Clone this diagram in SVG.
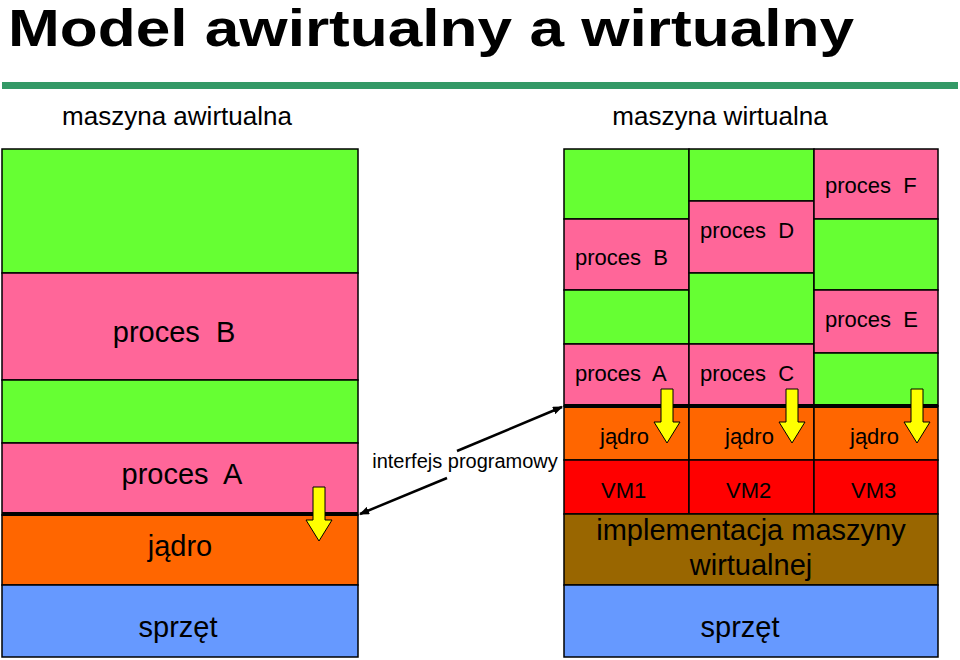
<svg xmlns="http://www.w3.org/2000/svg" width="960" height="660" viewBox="0 0 960 660" xml:space="preserve">
<style>
.t{font-family:"Liberation Sans",Arial,sans-serif;fill:#000;white-space:pre}
.b{stroke:#000;stroke-width:1.5}
.g{fill:#66ff33}.p{fill:#ff6699}.o{fill:#ff6600}.r{fill:#ff0000}.br{fill:#996600}.bl{fill:#6699ff}
.y{fill:#ffff00;stroke:#000;stroke-width:1}
</style>
<defs><marker id="ah" markerWidth="10" markerHeight="8" refX="9" refY="4" orient="auto" markerUnits="userSpaceOnUse"><path d="M0,0L10,4L0,8z" fill="#000"/></marker>
<path id="ya" d="M-6,0h12v33h7l-13,21l-13,-21h7z"/></defs>
<rect width="960" height="660" fill="#fff"/>
<text class="t" x="8" y="46" font-size="52" font-weight="bold" textLength="846" lengthAdjust="spacingAndGlyphs">Model awirtualny a wirtualny</text>
<rect x="2" y="82" width="956" height="7" fill="#339966"/>
<text class="t" x="177" y="125" font-size="26" text-anchor="middle">maszyna awirtualna</text>
<text class="t" x="720" y="125" font-size="26" text-anchor="middle">maszyna wirtualna</text>
<g id="left">
<rect class="g b" x="2" y="149" width="356" height="124"/>
<rect class="p b" x="2" y="273" width="356" height="107"/>
<rect class="g b" x="2" y="380" width="356" height="63"/>
<rect class="p b" x="2" y="443" width="356" height="72"/>
<rect class="o b" x="2" y="515" width="356" height="70"/>
<rect class="bl b" x="2" y="585" width="356" height="72"/>
<line x1="2" y1="514" x2="358" y2="514" stroke="#000" stroke-width="4"/>
<text class="t" x="174" y="342" font-size="29" text-anchor="middle">proces  B</text>
<text class="t" x="182" y="484" font-size="29" text-anchor="middle">proces  A</text>
<text class="t" x="180" y="556" font-size="29" text-anchor="middle">jądro</text>
<text class="t" x="178" y="637" font-size="29" text-anchor="middle">sprzęt</text>
<use href="#ya" class="y" x="319" y="487"/>
</g>
<g id="right">
<rect class="g b" x="564" y="149" width="125" height="70"/>
<rect class="p b" x="564" y="219" width="125" height="71"/>
<rect class="g b" x="564" y="290" width="125" height="54"/>
<rect class="p b" x="564" y="344" width="125" height="62"/>
<rect class="g b" x="689" y="149" width="125" height="52"/>
<rect class="p b" x="689" y="201" width="125" height="72"/>
<rect class="g b" x="689" y="273" width="125" height="71"/>
<rect class="p b" x="689" y="344" width="125" height="62"/>
<rect class="p b" x="814" y="149" width="124" height="70"/>
<rect class="g b" x="814" y="219" width="124" height="71"/>
<rect class="p b" x="814" y="290" width="124" height="63"/>
<rect class="g b" x="814" y="353" width="124" height="53"/>
<rect class="o b" x="564" y="406" width="125" height="54"/>
<rect class="o b" x="689" y="406" width="125" height="54"/>
<rect class="o b" x="814" y="406" width="124" height="54"/>
<rect class="r b" x="564" y="460" width="125" height="54"/>
<rect class="r b" x="689" y="460" width="125" height="54"/>
<rect class="r b" x="814" y="460" width="124" height="54"/>
<rect class="br b" x="564" y="514" width="374" height="71"/>
<rect class="bl b" x="564" y="585" width="374" height="72"/>
<line x1="564" y1="406" x2="938" y2="406" stroke="#000" stroke-width="4"/>
<text class="t" font-size="22" x="575" y="265">proces  B</text>
<text class="t" font-size="22" x="700" y="238">proces  D</text>
<text class="t" font-size="22" x="825" y="193">proces  F</text>
<text class="t" font-size="22" x="825" y="327">proces  E</text>
<text class="t" font-size="22" x="575" y="381">proces  A</text>
<text class="t" font-size="22" x="700" y="381">proces  C</text>
<text class="t" font-size="22" x="600" y="444">jądro</text>
<text class="t" font-size="22" x="725" y="444">jądro</text>
<text class="t" font-size="22" x="850" y="444">jądro</text>
<text class="t" font-size="22" x="601" y="498">VM1</text>
<text class="t" font-size="22" x="726" y="498">VM2</text>
<text class="t" font-size="22" x="851" y="498">VM3</text>
<text class="t" x="751" y="540" font-size="29" text-anchor="middle">implementacja maszyny</text>
<text class="t" x="751" y="575" font-size="29" text-anchor="middle">wirtualnej</text>
<text class="t" x="740" y="637" font-size="29" text-anchor="middle">sprzęt</text>
<use href="#ya" class="y" x="667" y="389"/>
<use href="#ya" class="y" x="792" y="389"/>
<use href="#ya" class="y" x="917" y="389"/>
</g>
<g id="connectors" stroke="#000" stroke-width="2.5" fill="none">
<line x1="457" y1="451" x2="562" y2="407" marker-end="url(#ah)"/>
<line x1="447" y1="478" x2="360" y2="514" marker-end="url(#ah)"/>
</g>
<text class="t" x="465" y="468" font-size="20" text-anchor="middle">interfejs programowy</text>
</svg>
